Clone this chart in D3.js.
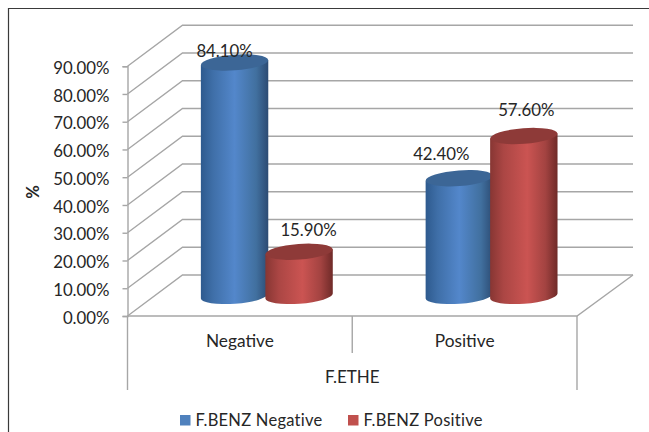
<!DOCTYPE html>
<html>
<head>
<meta charset="utf-8">
<script src="https://cdn.jsdelivr.net/npm/d3@7"></script>
<style>
  html, body { margin: 0; padding: 0; background: #fff; }
  svg { display: block; }
  text { font-family: Lato, "Open Sans", sans-serif; fill: #262626; }
</style>
</head>
<body>
<svg id="chart" width="649" height="432"></svg>
<script>
// Chart data
const categories = ["Negative", "Positive"];
const seriesNames = ["F.BENZ Negative", "F.BENZ Positive"];
const negativeBenz = [84.1, 42.4];
const positiveBenz = [15.9, 57.6];
const tickValues = [0, 10, 20, 30, 40, 50, 60, 70, 80, 90];
const xTitle = "F.ETHE";
const yTitle = "%";

const seriesValues = [negativeBenz, positiveBenz];

// Box geometry for the oblique 3D view
const frontLeft = 127.5, frontRight = 577, floorY = 316, topY = 66.2;
const depthX = 55, depthY = -41;
const barDepth = 0.49;
const rx = 33.7, ry = 7.8, tiltDeg = -4.3;
const tiltY = rx * Math.sin(tiltDeg * Math.PI / 180);

const svg = d3.select("#chart");
const defs = svg.append("defs");

const y = d3.scaleLinear().domain([0, 90]).range([floorY, topY]);
const x = d3.scaleBand().domain(categories).range([frontLeft, frontRight]);
const inner = d3.scaleBand().domain(d3.range(seriesNames.length)).range([-64.5, 64.5]);

// Horizontal shading that gives each cylinder its roundness
const palettes = [
  { id: "side-blue", top: "#3c6696", key: "#4f81bd",
    stops: [[0, "#2e5a8e"], [0.18, "#3f6fa8"], [0.5, "#5387cb"], [0.82, "#41709f"], [1, "#2c4b73"]] },
  { id: "side-red", top: "#8e3a38", key: "#c0504d",
    stops: [[0, "#873633"], [0.2, "#ab4644"], [0.55, "#cb5452"], [0.82, "#a34341"], [1, "#6f2a28"]] }
];
palettes.forEach(p => {
  const g = defs.append("linearGradient").attr("id", p.id)
    .attr("x1", 0).attr("x2", 1).attr("y1", 0).attr("y2", 0);
  g.selectAll("stop").data(p.stops).join("stop")
    .attr("offset", d => d[0]).attr("stop-color", d => d[1]);
});

// Outer chart border
svg.append("path")
  .attr("d", "M8.5,432V8.5H649")
  .attr("fill", "none").attr("stroke", "#3a3a3a").attr("stroke-width", 1.2);

// Gridlines on the side and back walls
const gridColor = "#a6a6a6";
const grid = svg.append("g").attr("fill", "none").attr("stroke", gridColor).attr("stroke-width", 1.4);
grid.selectAll("path.wall").data(tickValues).join("path")
  .attr("class", "wall")
  .attr("d", d => `M${frontLeft},${y(d)}L${frontLeft + depthX},${y(d) + depthY}H${frontRight + depthX + 1}`);

// Floor outline and the multi-level category dividers
grid.append("path").attr("d",
  `M${frontLeft},${floorY}H${frontRight}L${frontRight + depthX + 1},${floorY + depthY}`);
const dividers = [frontLeft, x(categories[1]), frontRight];
grid.selectAll("line.divider").data(dividers).join("line")
  .attr("class", "divider")
  .attr("x1", d => d).attr("x2", d => d)
  .attr("y1", floorY)
  .attr("y2", (d, i) => i === 1 ? 353 : 390);

// Value axis
const yAxis = d3.axisLeft(y).tickValues(tickValues)
  .tickFormat(d => d3.format(".2f")(d) + "%").tickSize(5).tickPadding(13);
const axisG = svg.append("g").attr("transform", `translate(${frontLeft},0)`).call(yAxis);
axisG.select(".domain").attr("stroke", gridColor).attr("stroke-width", 1.4);
axisG.selectAll(".tick line").attr("stroke", gridColor).attr("stroke-width", 1.4);
axisG.selectAll(".tick text").attr("font-size", 16.8).attr("fill", "#262626")
  .attr("dy", "0.42em").style("font-family", "Lato");

// Cylinders, blue first in each category so red overlaps it
const barData = categories.flatMap((c, ci) =>
  seriesNames.map((s, si) => ({ c, si, v: seriesValues[si][ci] })));
const labelShift = [[-10, -5], [9.5, -16], [-18, -18], [2.5, -20]];

const bars = svg.append("g").selectAll("g").data(barData).join("g");
const cx = d => x(d.c) + x.bandwidth() / 2 + depthX * barDepth + inner(d.si) + inner.bandwidth() / 2;
const baseY = floorY + depthY * barDepth;
const topOf = d => y(d.v) + depthY * barDepth;

bars.append("path")
  .attr("fill", d => `url(#${palettes[d.si].id})`)
  .attr("d", d => {
    const l = cx(d) - rx, r = cx(d) + rx;
    return `M${l},${topOf(d) - tiltY}L${l},${baseY - tiltY}` +
      `A${rx},${ry} ${tiltDeg} 0 0 ${r},${baseY + tiltY}` +
      `L${r},${topOf(d) + tiltY}Z`;
  });
bars.append("ellipse")
  .attr("rx", rx).attr("ry", ry)
  .attr("fill", d => palettes[d.si].top)
  .attr("transform", d => `translate(${cx(d)},${topOf(d)}) rotate(${tiltDeg})`);

// Value labels
svg.append("g").selectAll("text").data(barData).join("text")
  .attr("text-anchor", "middle").attr("font-size", 16.8)
  .attr("x", (d, i) => cx(d) + labelShift[i][0])
  .attr("y", (d, i) => topOf(d) + labelShift[i][1])
  .text(d => d3.format(".2f")(d.v) + "%");

// Category labels and axis titles
svg.append("g").selectAll("text").data(categories).join("text")
  .attr("text-anchor", "middle").attr("font-size", 17.3)
  .attr("x", d => x(d) + x.bandwidth() / 2).attr("y", 346.5)
  .text(d => d);
svg.append("text").attr("text-anchor", "middle").attr("font-size", 17)
  .attr("x", x(categories[1])).attr("y", 382.5).text(xTitle);
svg.append("text").attr("text-anchor", "middle").attr("font-size", 16.5).attr("font-weight", 700)
  .attr("transform", "translate(39,192) rotate(-90)").text(yTitle);

// Legend
const legendX = [180, 348];
const legend = svg.append("g").selectAll("g").data(seriesNames).join("g")
  .attr("transform", (d, i) => `translate(${legendX[i]},415)`);
legend.append("rect").attr("width", 10.5).attr("height", 10.5)
  .attr("fill", (d, i) => palettes[i].key);
legend.append("text").attr("x", 15.5).attr("y", 10.5).attr("font-size", 16.5)
  .attr("letter-spacing", 0.25).text(d => d);
</script>
</body>
</html>
